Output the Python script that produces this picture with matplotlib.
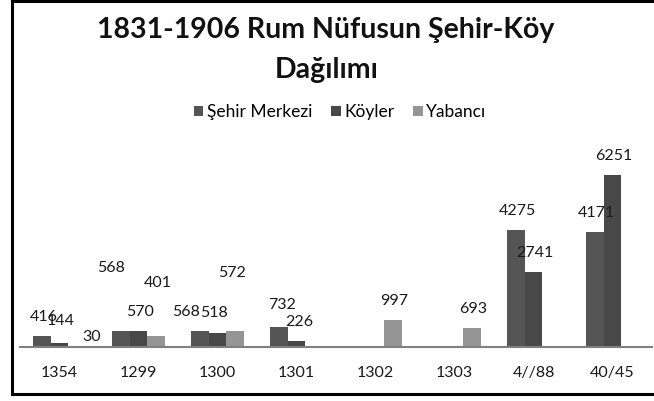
import numpy as np
import matplotlib
matplotlib.use("Agg")
import matplotlib.pyplot as plt
from matplotlib.patches import Patch
from matplotlib.lines import Line2D

plt.rcParams["font.family"] = ["Lato", "DejaVu Sans"]

categories = ["1354", "1299", "1300", "1301", "1302", "1303", "4//88", "40/45"]
series_names = ["Şehir Merkezi", "Köyler", "Yabancı"]
sehir = [416, 568, 568, 732, None, None, 4275, 4171]
koyler = [144, 570, 518, 226, None, None, 2741, 6251]
yabanci = [30, 401, 572, None, 997, 693, None, None]

colors = ["#555555", "#484848", "#959595"]

# label offsets (pixels) from the default spot, the source had labels dragged around
label_shift = {
    (0, 0): (0, 0), (0, 1): (0, -3), (0, 2): (13, 10),
    (1, 0): (-12, -44), (1, 1): (0, 0), (1, 2): (0, -34),
    (2, 0): (-16, 0), (2, 1): (-5, -1), (2, 2): (-4, -39),
    (3, 0): (1, -3), (3, 1): (1, 0),
}

fig = plt.figure(figsize=(6.54, 4.01), dpi=100)
ax = fig.add_axes([20 / 654, 54 / 401, 632 / 654, 206 / 401])

x = np.arange(len(categories))
w = 0.22
for k, vals in enumerate([sehir, koyler, yabanci]):
    v = np.array([np.nan if a is None else a for a in vals], dtype=float)
    pos = x + (k - 1) * w
    ax.bar(pos, np.nan_to_num(v), width=w, color=colors[k], linewidth=0)
    for i, val in enumerate(vals):
        if val is None:
            continue
        dx, dy = label_shift.get((i, k), (0, 0))
        ax.annotate(str(val), (pos[i], val), xytext=((1.5 + dx) / 1.389, (19 - dy) / 1.389),
                    textcoords="offset points", ha="center", va="center",
                    fontsize=11.5, color="#1a1a1a")

ax.set_xlim(-0.5, 7.5)
ax.set_ylim(0, 7500)
for s in ["left", "right", "top"]:
    ax.spines[s].set_visible(False)
ax.spines["bottom"].set_color("#808080")
ax.spines["bottom"].set_linewidth(1.5)
ax.set_yticks([])
ax.set_xticks(x)
ax.set_xticklabels(categories, fontsize=11.5, color="#1a1a1a")
ax.tick_params(axis="x", length=0, pad=14)

fig.text(0.498, 1 - 30 / 401, "1831-1906 Rum Nüfusun Şehir-Köy", ha="center", va="center",
         fontsize=20.5, fontweight="bold", color="#111111")
fig.text(0.5, 1 - 70 / 401, "Dağılımı", ha="center", va="center",
         fontsize=20.5, fontweight="bold", color="#111111")

handles = [Patch(facecolor=c, edgecolor="none") for c in colors]
fig.legend(handles, series_names, loc="center", bbox_to_anchor=(340 / 654, 1 - 112 / 401),
           ncol=3, frameon=False, fontsize=12.5, handlelength=0.55, handleheight=0.55,
           handletextpad=0.2, columnspacing=1.1)

# black frame (left, top, bottom) like the screenshot
fig.add_artist(Line2D([11.5 / 654, 11.5 / 654], [1 - 394 / 401, 1.0], color="black", lw=2.2))
fig.add_artist(Line2D([11.5 / 654, 1.0], [1 - 1 / 401, 1 - 1 / 401], color="black", lw=2.2))
fig.add_artist(Line2D([11.5 / 654, 1.0], [1 - 394 / 401, 1 - 394 / 401], color="black", lw=2.2))

fig.savefig("out.png", dpi=100)
